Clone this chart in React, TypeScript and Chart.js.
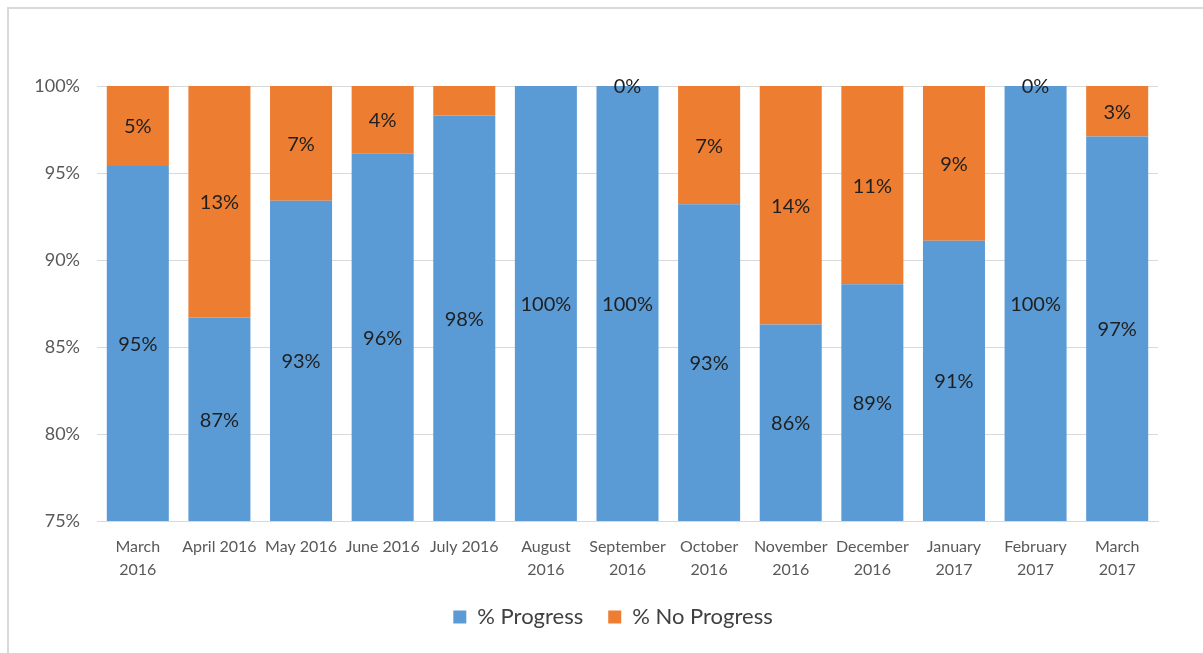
import React, { useEffect, useRef } from "react";
import { Chart, registerables } from "chart.js";

Chart.register(...registerables);

const categories: (string | string[])[] = [
  ["March", "2016"],
  "April 2016",
  "May 2016",
  "June 2016",
  "July 2016",
  ["August", "2016"],
  ["September", "2016"],
  ["October", "2016"],
  ["November", "2016"],
  ["December", "2016"],
  ["January", "2017"],
  ["February", "2017"],
  ["March", "2017"],
];

const progress = [95.4, 86.7, 93.4, 96.1, 98.3, 100, 100, 93.2, 86.3, 88.6, 91.1, 100, 97.1];
const noProgress = [4.6, 13.3, 6.6, 3.9, 1.7, 0, 0, 6.8, 13.7, 11.4, 8.9, 0, 2.9];

// which data labels are shown (reference hides some orange labels)
const progressLabelShown = [true, true, true, true, true, true, true, true, true, true, true, true, true];
const noProgressLabelShown = [true, true, true, true, false, false, true, true, true, true, true, true, true];

const yTicks = [75, 80, 85, 90, 95, 100];

const FONT = "Lato, 'Open Sans', sans-serif";

const labelPlugin = {
  id: "segmentLabels",
  afterLayout(chart: any) {
    // centre the legend under the plot like the reference
    const l = chart.legend;
    if (l) {
      l.left += 34;
      l.right += 34;
    }
  },
  afterDatasetsDraw(chart: any) {
    const { ctx, chartArea } = chart;
    const shown = [progressLabelShown, noProgressLabelShown];
    ctx.save();
    ctx.font = `20px ${FONT}`;
    ctx.fillStyle = "#1f1f1f";
    ctx.textAlign = "center";
    ctx.textBaseline = "middle";
    chart.data.datasets.forEach((ds: any, di: number) => {
      const meta = chart.getDatasetMeta(di);
      meta.data.forEach((bar: any, i: number) => {
        if (!shown[di][i]) return;
        const top = Math.max(Math.min(bar.y, bar.base), chartArea.top);
        const bottom = Math.min(Math.max(bar.y, bar.base), chartArea.bottom);
        const cy = (top + bottom) / 2 + 1;
        ctx.fillText(Math.round(ds.data[i]) + "%", bar.x, cy);
      });
    });
    ctx.restore();
  },
};

export default function App() {
  const ref = useRef<HTMLCanvasElement | null>(null);

  useEffect(() => {
    if (!ref.current) return;
    const chart = new Chart(ref.current, {
      type: "bar",
      data: {
        labels: categories,
        datasets: [
          {
            label: "% Progress",
            data: progress,
            backgroundColor: "#5B9BD5",
            barPercentage: 0.76,
            categoryPercentage: 1,
          },
          {
            label: "% No Progress",
            data: noProgress,
            backgroundColor: "#ED7D31",
            barPercentage: 0.76,
            categoryPercentage: 1,
          },
        ],
      },
      options: {
        responsive: false,
        animation: false,
        layout: { padding: { top: 86, right: 45, left: 0, bottom: 15 } },
        plugins: {
          tooltip: { enabled: false },
          legend: {
            position: "bottom",
            labels: {
              boxWidth: 13,
              boxHeight: 13,
              padding: 25,
              color: "#404040",
              font: { family: FONT, size: 22 },
            },
          },
        },
        scales: {
          x: {
            stacked: true,
            grid: { display: false, drawTicks: false },
            border: { display: true, color: "#d9d9d9", width: 1 },
            ticks: {
              color: "#595959",
              padding: 15,
              maxRotation: 0,
              autoSkip: false,
              font: { family: FONT, size: 16, lineHeight: 1.4 },
            },
            afterFit(scale: any) {
              scale.height = 60;
            },
          },
          y: {
            stacked: true,
            min: yTicks[0],
            max: yTicks[yTicks.length - 1],
            afterBuildTicks(scale: any) {
              scale.ticks = yTicks.map((v) => ({ value: v }));
            },
            grid: { color: "#d9d9d9", lineWidth: 1, drawTicks: false },
            border: { display: false },
            ticks: {
              color: "#595959",
              padding: 17,
              font: { family: FONT, size: 18 },
              callback: (v: any) => v + "%",
            },
            afterFit(scale: any) {
              scale.width = 97;
            },
          },
        },
      },
      plugins: [labelPlugin],
    });
    return () => chart.destroy();
  }, []);

  return (
    <div style={{ position: "fixed", left: 0, top: 0, width: 1203, height: 653, background: "#fff" }}>
      <div
        style={{
          position: "absolute",
          left: 7,
          top: 7,
          width: 1196,
          height: 646,
          borderTop: "2px solid #d9d9d9",
          borderLeft: "2px solid #d9d9d9",
          boxSizing: "border-box",
        }}
      />
      <canvas
        ref={ref}
        width={1203}
        height={653}
        style={{ position: "absolute", left: 0, top: 0, width: 1203, height: 653 }}
      />
    </div>
  );
}
